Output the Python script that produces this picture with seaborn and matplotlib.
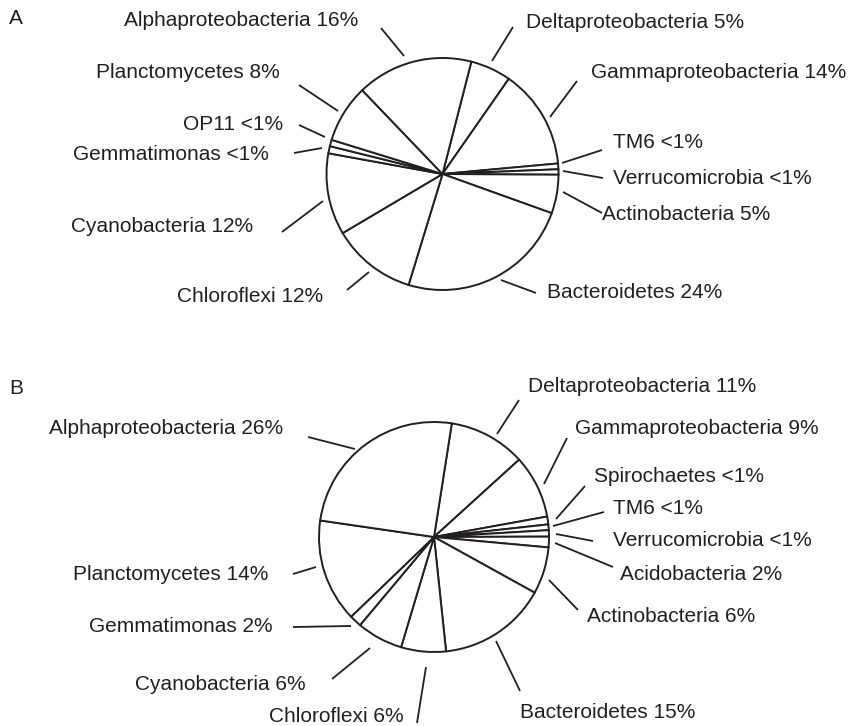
# plot.py
# Two pie charts (A, B) of bacterial class shares, white wedges with black edges,
# labels placed around the pie with short leader lines.
# Layout is done in image pixel units (853x726) on one full-figure axes.

import matplotlib
matplotlib.use("Agg")
import matplotlib.pyplot as plt
import seaborn as sns

# ---- data (clockwise starting at the top) ----
names_a = ["Deltaproteobacteria", "Gammaproteobacteria", "TM6", "Verrucomicrobia",
           "Actinobacteria", "Bacteroidetes", "Chloroflexi", "Cyanobacteria",
           "Gemmatimonas", "OP11", "Planctomycetes", "Alphaproteobacteria"]
share_a = [5.7, 13.9, 0.8, 0.75, 5.4, 24.3, 11.8, 11.4, 1.0, 0.9, 8.1, 16.2]
pct_a = ["5%", "14%", "<1%", "<1%", "5%", "24%", "12%", "12%", "<1%", "<1%", "8%", "16%"]

names_b = ["Deltaproteobacteria", "Gammaproteobacteria", "Spirochaetes", "TM6",
           "Verrucomicrobia", "Acidobacteria", "Actinobacteria", "Bacteroidetes",
           "Chloroflexi", "Cyanobacteria", "Gemmatimonas", "Planctomycetes",
           "Alphaproteobacteria"]
share_b = [10.8, 8.9, 1.1, 0.8, 0.9, 1.5, 6.6, 15.3, 6.3, 6.5, 1.7, 14.5, 25.2]
pct_b = ["11%", "9%", "<1%", "<1%", "<1%", "2%", "6%", "15%", "6%", "6%", "2%", "14%", "26%"]

# ---- layout (pixels, y down) ----
W, H = 853, 726
INK = "#231f20"
FS = 15

# pie: center x, center y, radius, angle of first boundary (deg, ccw from east)
pie_a = (442.5, 174, 116, 75.6)
pie_b = (434, 537, 115, 81.1)

# label: text x, text y, ha, leader line (x0, y0, x1, y1)
lab_a = [
    (526, 22, "left", (492, 61, 513, 27)),
    (591, 72, "left", (550, 117, 577, 81)),
    (613, 143, "left", (562, 163, 602, 150)),
    (613, 178, "left", (563, 171, 603, 178)),
    (602, 214, "left", (563, 192, 602, 213)),
    (547, 292, "left", (501, 280, 536, 293)),
    (323, 296, "right", (369, 272, 347, 290)),
    (253, 227, "right", (323, 201, 282, 232)),
    (269, 154, "right", (322, 148, 294, 153)),
    (283, 124, "right", (325, 137, 299, 125)),
    (280, 73, "right", (338, 111, 299, 85)),
    (358, 20, "right", (404, 56, 381, 28)),
]
lab_b = [
    (528, 387, "left", (497, 434, 519, 400)),
    (575, 428, "left", (544, 484, 567, 438)),
    (594, 476, "left", (556, 519, 585, 486)),
    (613, 508, "left", (553, 526, 604, 512)),
    (613, 540, "left", (556, 534, 593, 541)),
    (620, 574, "left", (555, 543, 613, 567)),
    (587, 617, "left", (549, 580, 578, 610)),
    (520, 712, "left", (496, 641, 520, 691)),
    (404, 716, "right", (426, 667, 417, 723)),
    (306, 684, "right", (370, 648, 332, 679)),
    (273, 626, "right", (351, 626, 293, 627)),
    (268, 574, "right", (316, 567, 293, 574)),
    (283, 428, "right", (355, 449, 308, 437)),
]


def draw_pie(ax, shares, names, pcts, pie, labels):
    cx, cy, r, start = pie
    # y axis is inverted, so a visually clockwise pie is ccw in data terms
    ax.pie(shares, center=(cx, cy), radius=r, startangle=-start, counterclock=True,
           colors=["white"] * len(shares),
           wedgeprops=dict(edgecolor=INK, linewidth=1.4))
    for name, pct, (tx, ty, ha, seg) in zip(names, pcts, labels):
        x0, y0, x1, y1 = seg
        ax.plot([x0, x1], [y0, y1], color=INK, lw=1.3, solid_capstyle="butt")
        ax.text(tx, ty, f"{name} {pct}", ha=ha, va="center", fontsize=FS, color=INK)


sns.set_theme(style="white")
plt.rcParams["font.family"] = ["Liberation Sans", "DejaVu Sans"]

fig = plt.figure(figsize=(W / 100, H / 100), dpi=100)
ax = fig.add_axes([0, 0, 1, 1])

draw_pie(ax, share_a, names_a, pct_a, pie_a, lab_a)
draw_pie(ax, share_b, names_b, pct_b, pie_b, lab_b)

ax.text(9, 18, "A", ha="left", va="center", fontsize=FS, color=INK)
ax.text(9, 389, "B", ha="left", va="center", fontsize=FS, color=INK)

# pie() resets limits, so set them last
ax.set_xlim(0, W)
ax.set_ylim(H, 0)
ax.set_aspect("equal")
ax.axis("off")

fig.savefig("out.png", dpi=100, facecolor="white")
plt.close(fig)
